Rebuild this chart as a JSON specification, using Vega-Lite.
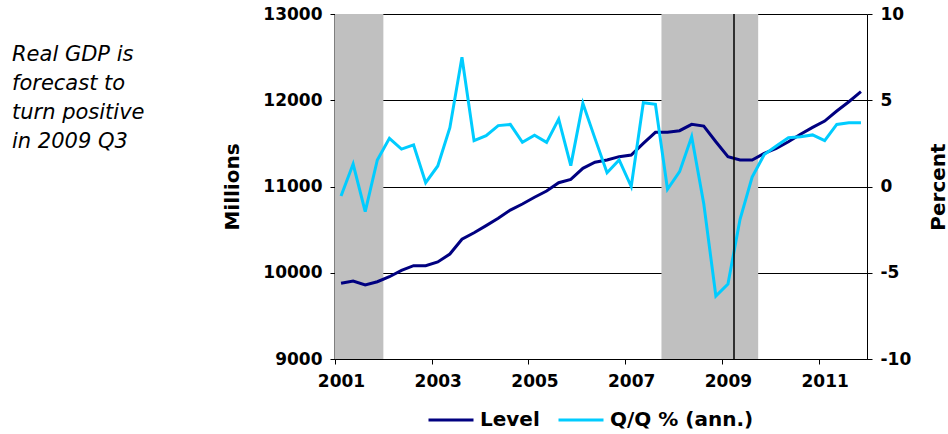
{
  "$schema": "https://vega.github.io/schema/vega-lite/v6.json",
  "autosize": {"type": "none"},
  "width": 532,
  "height": 345,
  "padding": {"left": 335, "top": 14, "right": 81, "bottom": 75},
  "background": "white",
  "config": {
    "view": {"stroke": null},
    "font": "DejaVu Sans",
    "axis": {
      "labelFont": "DejaVu Sans",
      "labelFontSize": 17,
      "labelFontWeight": "bold",
      "labelColor": "#000000",
      "titleFont": "DejaVu Sans",
      "titleFontSize": 20,
      "titleFontWeight": "bold",
      "titleColor": "#000000",
      "domainColor": "#000000",
      "domainWidth": 1,
      "tickColor": "#000000",
      "tickWidth": 1,
      "tickSize": 5,
      "labelFlush": false,
      "labelOverlap": false
    }
  },
  "title": {
    "text": ["Real GDP is", "forecast to", "turn positive", "in 2009 Q3"],
    "orient": "top",
    "anchor": "start",
    "frame": "group",
    "align": "left",
    "baseline": "top",
    "font": "DejaVu Sans",
    "fontSize": 21,
    "fontStyle": "italic",
    "fontWeight": "normal",
    "color": "#000000",
    "lineHeight": 29,
    "dx": -323,
    "dy": 151
  },
  "datasets": {
    "recessions": [
      {"start": 2001.0, "end": 2002.0},
      {"start": 2007.75, "end": 2009.75}
    ],
    "gdp": [
      {"t": 2001.125, "level": 9878, "qq": -0.55},
      {"t": 2001.375, "level": 9904, "qq": 1.30},
      {"t": 2001.625, "level": 9858, "qq": -1.46},
      {"t": 2001.875, "level": 9896, "qq": 1.54},
      {"t": 2002.125, "level": 9954, "qq": 2.79},
      {"t": 2002.375, "level": 10028, "qq": 2.17},
      {"t": 2002.625, "level": 10082, "qq": 2.41},
      {"t": 2002.875, "level": 10082, "qq": 0.22},
      {"t": 2003.125, "level": 10125, "qq": 1.19},
      {"t": 2003.375, "level": 10217, "qq": 3.41},
      {"t": 2003.625, "level": 10388, "qq": 7.49},
      {"t": 2003.875, "level": 10464, "qq": 2.66},
      {"t": 2004.125, "level": 10546, "qq": 2.95},
      {"t": 2004.375, "level": 10631, "qq": 3.53},
      {"t": 2004.625, "level": 10727, "qq": 3.60},
      {"t": 2004.875, "level": 10797, "qq": 2.56},
      {"t": 2005.125, "level": 10875, "qq": 2.97},
      {"t": 2005.375, "level": 10948, "qq": 2.56},
      {"t": 2005.625, "level": 11044, "qq": 3.91},
      {"t": 2005.875, "level": 11083, "qq": 1.21},
      {"t": 2006.125, "level": 11211, "qq": 4.82},
      {"t": 2006.375, "level": 11281, "qq": 2.79},
      {"t": 2006.625, "level": 11307, "qq": 0.80},
      {"t": 2006.875, "level": 11346, "qq": 1.54},
      {"t": 2007.125, "level": 11365, "qq": 0.0},
      {"t": 2007.375, "level": 11500, "qq": 4.86},
      {"t": 2007.625, "level": 11628, "qq": 4.76},
      {"t": 2007.875, "level": 11628, "qq": -0.16},
      {"t": 2008.125, "level": 11647, "qq": 0.86},
      {"t": 2008.375, "level": 11721, "qq": 2.89},
      {"t": 2008.625, "level": 11701, "qq": -1.0},
      {"t": 2008.875, "level": 11519, "qq": -6.35},
      {"t": 2009.125, "level": 11346, "qq": -5.65},
      {"t": 2009.375, "level": 11307, "qq": -1.9},
      {"t": 2009.625, "level": 11307, "qq": 0.55},
      {"t": 2009.875, "level": 11385, "qq": 1.85},
      {"t": 2010.125, "level": 11443, "qq": 2.35},
      {"t": 2010.375, "level": 11519, "qq": 2.83},
      {"t": 2010.625, "level": 11605, "qq": 2.89},
      {"t": 2010.875, "level": 11686, "qq": 2.99},
      {"t": 2011.125, "level": 11759, "qq": 2.66},
      {"t": 2011.375, "level": 11875, "qq": 3.60},
      {"t": 2011.625, "level": 11983, "qq": 3.70},
      {"t": 2011.875, "level": 12099, "qq": 3.70}
    ],
    "marker": [
      {"date": 2009.25}
    ]
  },
  "layer": [
    {
      "data": {"name": "recessions"},
      "mark": {"type": "rect", "color": "#C0C0C0"},
      "encoding": {
        "x": {
          "field": "start",
          "type": "quantitative",
          "scale": {"domain": [2001, 2012], "nice": false, "zero": false},
          "axis": {
            "orient": "bottom",
            "values": [2001, 2003, 2005, 2007, 2009, 2011],
            "format": "d",
            "labelOffset": 6,
            "labelPadding": 9,
            "grid": false,
            "title": null,
            "zindex": 1
          }
        },
        "x2": {"field": "end"}
      }
    },
    {
      "data": {"name": "gdp"},
      "mark": {"type": "line", "strokeWidth": 3},
      "encoding": {
        "x": {"field": "t", "type": "quantitative"},
        "y": {
          "field": "level",
          "type": "quantitative",
          "scale": {"domain": [9000, 13000], "nice": false, "zero": false},
          "axis": {
            "orient": "left",
            "values": [9000, 10000, 11000, 12000, 13000],
            "format": "d",
            "grid": true,
            "gridColor": "#000000",
            "gridWidth": 1,
            "gridOpacity": 1,
            "domainWidth": 2,
            "labelPadding": 8,
            "title": "Millions",
            "titleAngle": -90,
            "titleAlign": "center",
            "titleBaseline": "alphabetic",
            "titleX": -97,
            "titleY": 172.5,
            "zindex": 0
          }
        },
        "color": {
          "datum": "Level",
          "type": "nominal",
          "scale": {"domain": ["Level", "Q/Q % (ann.)"], "range": ["#000080", "#00CCFF"]},
          "legend": {
            "orient": "none",
            "direction": "horizontal",
            "legendX": 92,
            "legendY": 382,
            "title": null,
            "padding": 0,
            "symbolType": "stroke",
            "symbolSize": 2025,
            "symbolStrokeWidth": 3,
            "labelFont": "DejaVu Sans",
            "labelFontSize": 20,
            "labelFontWeight": "bold",
            "labelColor": "#000000",
            "labelOffset": 5,
            "columnPadding": 12,
            "labelLimit": 300
          }
        }
      }
    },
    {
      "data": {"name": "gdp"},
      "mark": {"type": "line", "strokeWidth": 3},
      "encoding": {
        "x": {"field": "t", "type": "quantitative"},
        "y": {
          "field": "qq",
          "type": "quantitative",
          "scale": {"domain": [-10, 10], "nice": false, "zero": false},
          "axis": {
            "orient": "right",
            "values": [-10, -5, 0, 5, 10],
            "labelExpr": "'' + datum.value",
            "grid": false,
            "labelPadding": 8,
            "title": "Percent",
            "titleAngle": -90,
            "titleAlign": "center",
            "titleBaseline": "alphabetic",
            "titleX": 77,
            "titleY": 172.5,
            "zindex": 1
          }
        },
        "color": {"datum": "Q/Q % (ann.)", "type": "nominal"}
      }
    },
    {
      "data": {"name": "marker"},
      "mark": {"type": "rule", "color": "#000000", "strokeWidth": 1.5},
      "encoding": {
        "x": {"field": "date", "type": "quantitative"}
      }
    }
  ],
  "resolve": {"scale": {"y": "independent"}}
}
